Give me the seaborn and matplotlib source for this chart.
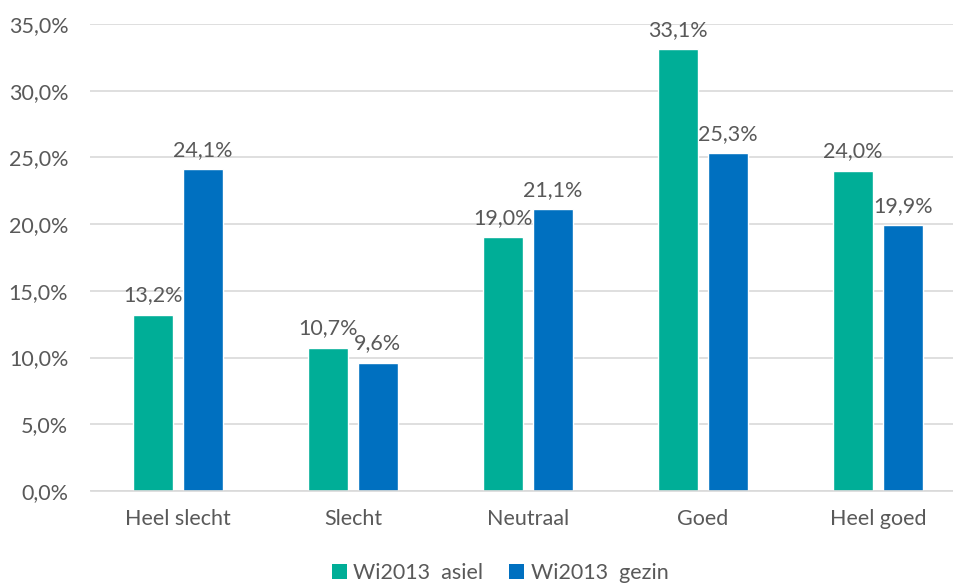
import matplotlib
matplotlib.use("Agg")
import matplotlib.pyplot as plt
import seaborn as sns
import pandas as pd
from matplotlib.ticker import FuncFormatter
from matplotlib.patches import Patch

categories = ["Heel slecht", "Slecht", "Neutraal", "Goed", "Heel goed"]
series_names = ["Wi2013  asiel", "Wi2013  gezin"]
asiel = [13.2, 10.7, 19.0, 33.1, 24.0]
gezin = [24.1, 9.6, 21.1, 25.3, 19.9]
colors = ["#00AE97", "#0070C0"]
yticks = [0, 5, 10, 15, 20, 25, 30, 35]

df = pd.DataFrame({
    "cat": categories * 2,
    "series": [series_names[0]] * 5 + [series_names[1]] * 5,
    "val": asiel + gezin,
})

sns.set_theme(style="white")
plt.rcParams["font.family"] = ["Lato", "DejaVu Sans"]
txt = "#595959"
fs = 15.5

fig = plt.figure(figsize=(9.54, 5.85), dpi=100)
ax = fig.add_axes([90.5 / 954, 94 / 585, 875 / 954, 467 / 585])

sns.barplot(data=df, x="cat", y="val", hue="series", order=categories,
            hue_order=series_names, palette=colors, width=0.566, gap=0.19,
            saturation=1, ax=ax, legend=False)

ax.set_ylim(0, 35)
ax.set_xlim(-0.5, 4.5)
ax.set_yticks(yticks)
ax.yaxis.set_major_formatter(FuncFormatter(lambda v, p: f"{v:.1f}%".replace(".", ",")))
ax.grid(axis="y", color="#D9D9D9", linewidth=1.2)
ax.set_axisbelow(True)
for s in ["top", "right", "left"]:
    ax.spines[s].set_visible(False)
ax.spines["bottom"].set_color("#D9D9D9")
ax.spines["bottom"].set_linewidth(1.2)
ax.set_xlabel("")
ax.set_ylabel("")
ax.tick_params(axis="y", length=0, pad=16, labelsize=fs, labelcolor=txt)
ax.tick_params(axis="x", length=0, pad=13, labelsize=fs, labelcolor=txt)

for cont in ax.containers:
    for bar in cont:
        h = bar.get_height()
        ax.annotate(f"{h:.1f}%".replace(".", ","),
                    (bar.get_x() + bar.get_width() / 2, h),
                    xytext=(0, 7), textcoords="offset points",
                    ha="center", va="bottom", fontsize=fs, color=txt)

handles = [Patch(facecolor=c, edgecolor="none") for c in colors]
fig.legend(handles, series_names, loc="center", bbox_to_anchor=(500 / 954, 1 - 573 / 585),
           ncol=2, frameon=False, fontsize=fs, labelcolor=txt,
           handlelength=0.7, handleheight=0.7, handletextpad=0.3, columnspacing=1.2)

fig.savefig("out.png", dpi=100)
